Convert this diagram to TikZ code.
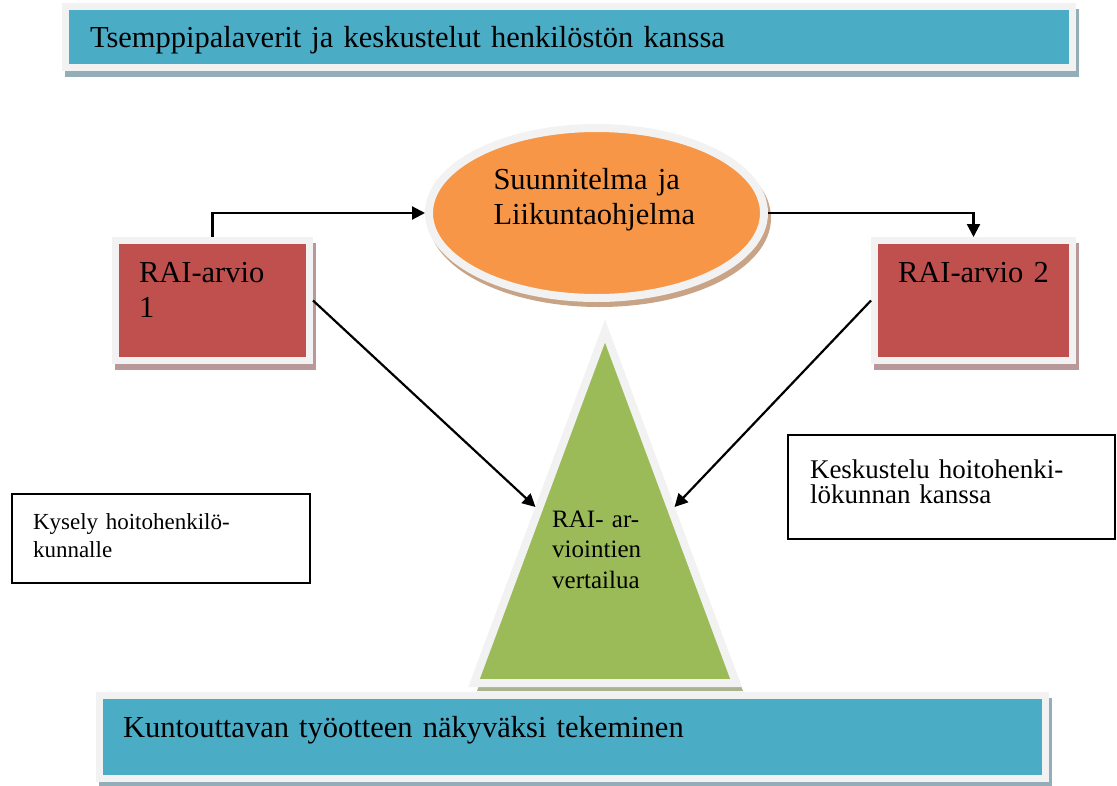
\documentclass[tikz,border=0pt]{standalone}
\usepackage{fontspec}
\setmainfont{Liberation Serif}
\usetikzlibrary{arrows.meta,positioning,shapes.geometric,shadows,calc}
\definecolor{rim}{HTML}{F2F2F2}
\definecolor{teal}{HTML}{4BACC6}
\definecolor{tealshade}{HTML}{93AEB8}
\definecolor{raired}{HTML}{C0504D}
\definecolor{redshade}{HTML}{B89898}
\definecolor{planorange}{HTML}{F79646}
\definecolor{orangeshade}{HTML}{C9A386}
\definecolor{cmpgreen}{HTML}{9BBB59}
\definecolor{greenshade}{HTML}{A8B38F}

\begin{document}
\begin{tikzpicture}[x=1pt,y=-1pt,>={Triangle[length=13pt,width=13pt]},
    link/.style={->,line width=2.2pt},
    banner/.style={rectangle, draw=rim, line width=7pt, fill=teal, align=left,
      font=\fontsize{30.5}{36}\selectfont,
      drop shadow={shadow xshift=3pt, shadow yshift=-6pt, opacity=1, fill=tealshade, draw=tealshade, line width=7pt}},
    raibox/.style={rectangle, draw=rim, line width=7pt, fill=raired, align=left,
      minimum height=120pt, inner xsep=23.5pt, inner ysep=2pt, text height=20pt, text depth=57pt,
      font=\fontsize{30.5}{35}\selectfont,
      drop shadow={shadow xshift=3pt, shadow yshift=-6pt, opacity=1, fill=redshade, draw=redshade, line width=7pt}},
    note/.style={rectangle, draw, line width=1.3pt, align=left, inner ysep=2pt}]
  \useasboundingbox (0,0) rectangle (1117,785);

  \node[banner, minimum height=61pt, inner xsep=24.5pt, text width=958pt, text height=22pt, text depth=1pt]
    (tsemppi) at (569,36.5) {Tsemppipalaverit ja keskustelut henkilöstön kanssa};

  \node[ellipse, draw=rim, line width=8pt, fill=planorange, minimum width=335pt, minimum height=170pt,
    inner sep=0pt, text width=206pt, align=left, text height=20pt, text depth=68pt,
    font=\fontsize{30.5}{35}\selectfont,
    drop shadow={shadow xshift=3pt, shadow yshift=-5pt, opacity=1, fill=orangeshade, draw=orangeshade, line width=8pt}]
    (plan) at (596.5,213) {Suunnitelma ja\\Liikuntaohjelma};

  \node[raibox, text width=147pt] (rai1) at (212.5,300.5) {RAI-arvio\\1};
  \node[raibox, text width=151pt] (rai2) at (973.5,300.5) {RAI-arvio~2};

  \coordinate (apex) at (605,331);
  \coordinate (baseL) at (474,683);
  \coordinate (baseR) at (736,683);
  \fill[greenshade] ($(apex)+(3,4)$) -- ($(baseL)+(3,8)$) -- ($(baseR)+(7,8)$) -- cycle;
  \draw[draw=rim, line width=8pt, fill=cmpgreen] (apex) -- (baseL) -- (baseR) -- cycle;
  \coordinate (cmpL) at ($(apex)!0.5!(baseL)+(-4,0)$);
  \coordinate (cmpR) at ($(apex)!0.5!(baseR)+(4,0)$);
  \node[anchor=north west, inner sep=0pt, text width=100pt, align=left, text height=18pt,
    font=\fontsize{25}{30.5}\selectfont] (vertailu) at (552,509) {RAI- ar-\\viointien\\vertailua};

  \node[note, minimum width=298pt, minimum height=89pt, inner xsep=21pt, text width=256pt,
    text height=16pt, text depth=35pt, font=\fontsize{23}{28}\selectfont]
    (kysely) at (161,538.5) {Kysely hoitohenkilö-\\kunnalle};
  \node[note, minimum width=327pt, minimum height=104pt, inner xsep=22pt, text width=283pt,
    text height=16pt, text depth=34pt, font=\fontsize{27}{25.5}\selectfont]
    (keskustelu) at (951.5,487) {Keskustelu hoitohenki-\\lökunnan kanssa};

  \node[banner, minimum height=83.5pt, inner xsep=24pt, text width=898pt, text height=20pt, text depth=20pt]
    (kuntouttava) at (572,737) {Kuntouttavan työotteen näkyväksi tekeminen};

  \draw[link] (rai1.north) |- (plan.west);
  \draw[link] (plan.east) -| (rai2.north);
  \draw[link] (rai1.east) -- (cmpL);
  \draw[link] (rai2.west) -- (cmpR);
\end{tikzpicture}
\end{document}
